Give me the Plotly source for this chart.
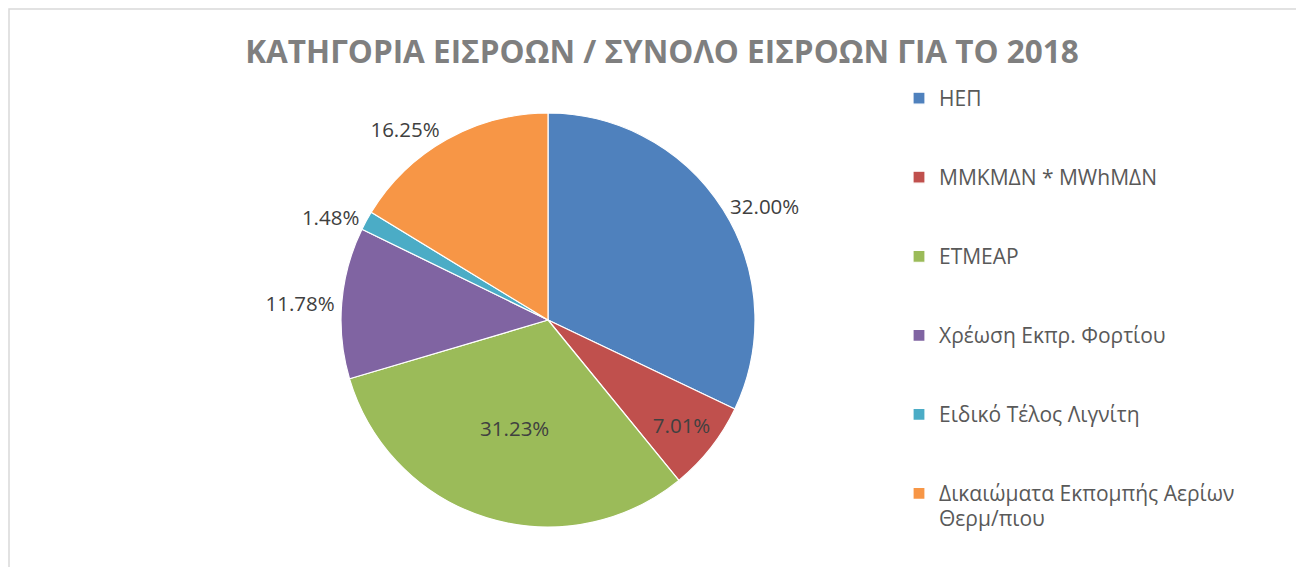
import plotly.graph_objects as go

# The page body has an 8px margin, so the figure is 8px smaller and
# reference pixel positions are shifted by OFF.
OFF = 8
W, H = 1304 - OFF, 567 - OFF

categories = ["ΗΕΠ", "ΜΜΚΜΔΝ * MWhΜΔΝ", "ΕΤΜΕΑΡ", "Χρέωση Εκπρ. Φορτίου",
              "Ειδικό Τέλος Λιγνίτη", "Δικαιώματα Εκπομπής Αερίων Θερμ/πιου"]
legend_lines = [["ΗΕΠ"], ["ΜΜΚΜΔΝ * MWhΜΔΝ"], ["ΕΤΜΕΑΡ"], ["Χρέωση Εκπρ. Φορτίου"],
                ["Ειδικό Τέλος Λιγνίτη"], ["Δικαιώματα Εκπομπής Αερίων", "Θερμ/πιου"]]
values = [32.00, 7.01, 31.23, 11.78, 1.48, 16.25]
colors = ["#4F81BD", "#C0504D", "#9BBB59", "#8064A2", "#4BACC6", "#F79646"]
text_positions = ["outside", "inside", "inside", "outside", "outside", "outside"]


def legend_label(lines):
    # pad every entry to three lines so the legend items get the reference spacing
    body = "<br>".join('<span style="font-size:21px">%s</span>' % s for s in lines)
    return body + "<br> " * (3 - len(lines))


legend_labels = [legend_label(l) for l in legend_lines]


def px(x):
    return (x - OFF) / W


def py(y):
    return 1 - (y - OFF) / H


cx, cy, r = 548, 320, 207

fig = go.Figure(go.Pie(
    labels=legend_labels,
    values=values,
    customdata=categories,
    sort=False,
    direction="clockwise",
    rotation=0,
    marker=dict(colors=colors, line=dict(color="white", width=1.2)),
    texttemplate="%{value:.2f}%",
    textposition=text_positions,
    insidetextorientation="horizontal",
    textfont=dict(family="Open Sans", size=20.5, color="#404040"),
    hovertemplate="%{customdata}: %{value:.2f}%<extra></extra>",
    domain=dict(x=[px(cx - r), px(cx + r)], y=[py(cy + r), py(cy - r)]),
))

fig.update_layout(
    width=W, height=H,
    margin=dict(l=0, r=0, t=0, b=0),
    paper_bgcolor="white",
    title=dict(text="<b>ΚΑΤΗΓΟΡΙΑ ΕΙΣΡΟΩΝ / ΣΥΝΟΛΟ ΕΙΣΡΟΩΝ ΓΙΑ ΤΟ 2018</b>",
               x=px(662), xanchor="center", y=py(52), yanchor="middle",
               font=dict(family="Open Sans", size=31.5, color="#7F7F7F")),
    legend=dict(x=px(899), xanchor="left", y=py(79), yanchor="top",
                font=dict(family="Open Sans", size=19.5, color="#595959"),
                valign="top", bgcolor="rgba(0,0,0,0)"),
    shapes=[dict(type="rect", xref="paper", yref="paper",
                 x0=px(9), x1=1.02, y0=-0.02, y1=py(9),
                 line=dict(color="#D9D9D9", width=1.5), layer="below")],
)

fig.write_html("out.html")
